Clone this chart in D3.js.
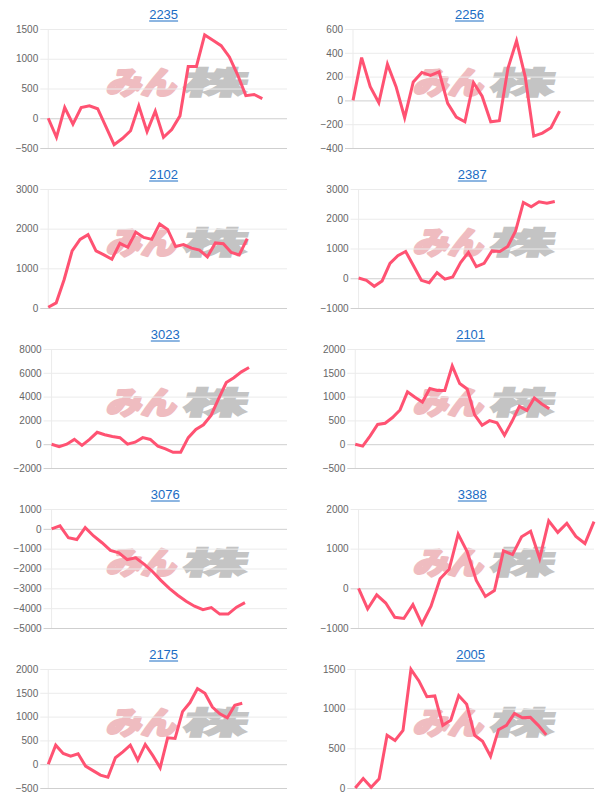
<!DOCTYPE html>
<html>
<head>
<meta charset="utf-8">
<script src="https://cdn.jsdelivr.net/npm/d3@7"></script>
<style>
  body { margin: 0; background: #fff; }
  svg { display: block; }
</style>
</head>
<body>
<div id="chart-container"></div>
<script>
// stock codes (panel titles)
const codes = ["2235", "2256", "2102", "2387", "3023", "2101", "3076", "3388", "2175", "2005"];

// series values
const v2235 = [0, -320, 180, -100, 180, 210, 160, -140, -445, -340, -210, 210, -225, 120, -320, -190, 40, 870, 870, 1400, 1310, 1220, 1030, 730, 380, 400, 330];
const v2256 = [0, 360, 115, -20, 305, 115, -145, 155, 235, 210, 240, -25, -140, -180, 150, 35, -180, -170, 270, 500, 200, -300, -275, -230, -90];
const v2102 = [20, 130, 720, 1440, 1730, 1850, 1440, 1340, 1230, 1630, 1530, 1910, 1780, 1730, 2120, 1980, 1550, 1600, 1510, 1460, 1290, 1640, 1620, 1400, 1340, 1750];
const v2387 = [10, -70, -270, -90, 500, 760, 900, 420, -70, -150, 190, -30, 45, 530, 870, 390, 500, 920, 900, 1070, 1580, 2550, 2400, 2570, 2520, 2580];
const v3023 = [0, -200, 0, 400, -100, 400, 1000, 800, 650, 550, 0, 170, 550, 400, -170, -400, -680, -680, 550, 1240, 1630, 2420, 3830, 5180, 5580, 6080, 6450];
const v2101 = [0, -40, 175, 415, 440, 560, 720, 1100, 985, 885, 1170, 1130, 1130, 1645, 1275, 1160, 615, 400, 495, 450, 190, 475, 795, 710, 970, 845, 745];
const v3076 = [0, 150, -450, -540, 60, -360, -700, -1090, -1210, -1550, -1460, -1780, -2150, -2600, -3000, -3350, -3650, -3900, -4080, -3970, -4300, -4300, -3950, -3720];
const v3388 = [0, -520, -165, -370, -730, -760, -410, -900, -450, 240, 480, 1365, 920, 200, -205, -55, 945, 850, 1300, 1440, 750, 1700, 1410, 1640, 1310, 1130, 1680];
const v2175 = [0, 400, 225, 170, 220, -40, -135, -230, -275, 135, 260, 400, 85, 415, 185, -75, 555, 540, 1105, 1295, 1590, 1490, 1200, 1060, 975, 1240, 1280];
const v2005 = [0, 120, 10, 115, 665, 600, 725, 1495, 1350, 1150, 1160, 790, 855, 1165, 1055, 665, 590, 400, 735, 790, 940, 885, 890, 790, 670];

const series = [v2235, v2256, v2102, v2387, v3023, v2101, v3076, v3388, v2175, v2005];

// number of x categories on each chart (labels are hidden)
const slotCounts = [30, 29, 31, 31, 32, 33, 29, 27, 33, 31];

// y axis ranges and tick steps
const yMins = [-500, -400, 0, -1000, -2000, -500, -5000, -1000, -500, 0];
const yMaxs = [1500, 600, 3000, 3000, 8000, 2000, 1000, 2000, 2000, 1500];
const ySteps = [500, 200, 1000, 1000, 2000, 500, 1000, 1000, 500, 500];

const width = 614;
const height = 800;
const panelW = 307;
const panelH = 160;
const plotTop = 29;
const plotBottom = 148;
const plotRight = 287;
const lineColor = "#ff5272";

const svg = d3.select("#chart-container").append("svg")
    .attr("width", width)
    .attr("height", height)
    .style("font-family", "'Liberation Sans', Arial, sans-serif");

codes.forEach(function (code, i) {
    const col = i % 2;
    const row = Math.floor(i / 2);
    const g = svg.append("g")
        .attr("transform", "translate(" + (col * panelW) + "," + (row * panelH) + ")");

    const ticks = d3.range(yMins[i], yMaxs[i] + ySteps[i] / 2, ySteps[i]);

    // measure the widest tick label to place the plot's left edge
    const probe = g.append("text").style("font-size", "10px");
    let maxW = 0;
    ticks.forEach(t => {
        probe.text(String(t));
        maxW = Math.max(maxW, probe.node().getComputedTextLength());
    });
    probe.remove();
    const left = 16 + maxW + 10;

    const y = d3.scaleLinear().domain([yMins[i], yMaxs[i]]).range([plotBottom, plotTop]);
    const x = d3.scalePoint().domain(d3.range(slotCounts[i])).range([left, plotRight]);

    // watermark
    const wm = g.append("g").attr("transform", "translate(106,68) skewX(-14)");
    wm.append("text")
        .attr("x", 6).attr("y", 26)
        .attr("textLength", 70).attr("lengthAdjust", "spacingAndGlyphs")
        .style("font-family", "'Noto Sans CJK JP', sans-serif")
        .style("font-weight", "900")
        .style("font-size", "31px")
        .attr("fill", "#efbcc0")
        .attr("stroke", "#efbcc0")
        .attr("stroke-width", 2.5)
        .attr("stroke-linejoin", "round")
        .text("みん");
    wm.append("text")
        .attr("x", 82).attr("y", 26)
        .attr("textLength", 64).attr("lengthAdjust", "spacingAndGlyphs")
        .style("font-family", "'Noto Sans CJK JP', sans-serif")
        .style("font-weight", "900")
        .style("font-size", "31px")
        .attr("fill", "#c4c4c4")
        .attr("stroke", "#c4c4c4")
        .attr("stroke-width", 1.5)
        .text("株");

    // y axis
    const yAxis = d3.axisLeft(y)
        .tickValues(ticks)
        .tickSize(-(plotRight - left + 8))
        .tickPadding(2)
        .tickFormat(d3.format("d"));
    const ax = g.append("g")
        .attr("transform", "translate(" + (left - 8) + ",0)")
        .call(yAxis);
    ax.select(".domain").remove();
    ax.selectAll(".tick line")
        .attr("stroke", d => (d === 0 || d === yMins[i]) ? "#cfcfcf" : "#ebebeb")
        .attr("stroke-width", 1);
    ax.selectAll(".tick text")
        .attr("fill", "#666")
        .style("font-size", "10px")
        .style("font-family", "'Liberation Sans', Arial, sans-serif");

    // left border of the plot
    g.append("line")
        .attr("x1", left).attr("x2", left)
        .attr("y1", plotTop).attr("y2", plotBottom)
        .attr("stroke", "#ebebeb");

    // title link
    const tx = (left + plotRight) / 2 - 4;
    const title = g.append("text")
        .attr("x", tx).attr("y", 19)
        .attr("text-anchor", "middle")
        .attr("fill", "#1a6cc4")
        .style("font-size", "13px")
        .text(code);
    const tw = title.node().getComputedTextLength();
    g.append("line")
        .attr("x1", tx - tw / 2).attr("x2", tx + tw / 2)
        .attr("y1", 21).attr("y2", 21)
        .attr("stroke", "#1a6cc4").attr("stroke-width", 1);

    // line
    const line = d3.line()
        .x((d, k) => x(k))
        .y(d => y(d));
    g.append("path")
        .datum(series[i])
        .attr("fill", "none")
        .attr("stroke", lineColor)
        .attr("stroke-width", 3)
        .attr("stroke-linejoin", "miter")
        .attr("d", line);
});
</script>
</body>
</html>
